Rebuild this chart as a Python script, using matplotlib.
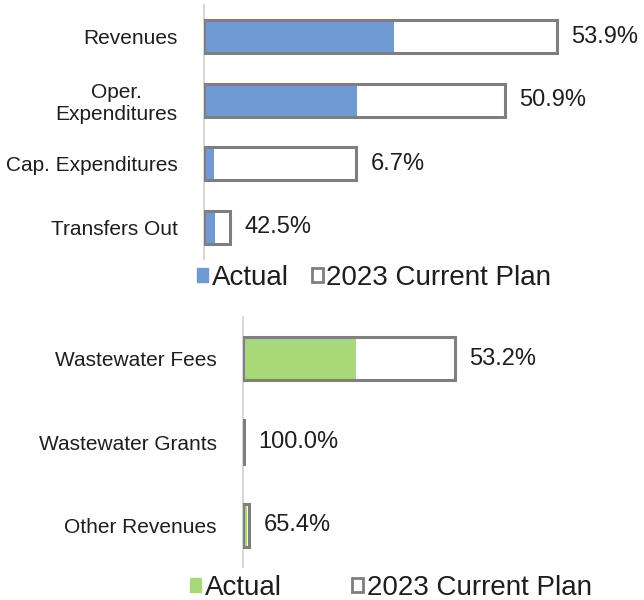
import matplotlib
matplotlib.use("Agg")
import matplotlib.pyplot as plt
from matplotlib.patches import Patch

plt.rcParams['font.family'] = ['Liberation Sans', 'DejaVu Sans']

# top chart - overall fund (units)
top_cats = ["Revenues", "Oper.\nExpenditures", "Cap. Expenditures", "Transfers Out"]
top_plan = [35.3, 30.1, 15.2, 2.6]
top_actual = [19.0, 15.3, 1.0, 1.1]
top_pct = ["53.9%", "50.9%", "6.7%", "42.5%"]

# bottom chart - revenues detail
bot_cats = ["Wastewater Fees", "Wastewater Grants", "Other Revenues"]
bot_plan = [21.2, 0.1, 0.6]
bot_actual = [11.3, 0.1, 0.39]
bot_pct = ["53.2%", "100.0%", "65.4%"]

blue = "#6f9bd2"
green = "#a8d877"
edge = "#7f7f7f"
txt = "#1e1e1e"

W, H = 644, 600
fig = plt.figure(figsize=(6.44, 6.0), dpi=100)


def draw(ax, cats, plan, actual, pct, color, xmax):
    y = list(range(len(cats)))
    ax.barh(y, plan, height=0.52, color="white", zorder=1)
    ax.barh(y, actual, height=0.52, color=color, zorder=2)
    ax.barh(y, plan, height=0.52, fill=False, edgecolor=edge, linewidth=2.2, zorder=3)
    for i in range(len(cats)):
        ax.text(plan[i] + 1.45, i, pct[i], va="center", ha="left", fontsize=17, color=txt)
    ax.set_xlim(0, xmax)
    ax.set_ylim(len(cats) - 0.5, -0.5)
    ax.set_yticks(y)
    ax.set_yticklabels(cats, fontsize=15, color=txt)
    for t in ax.get_yticklabels():
        t.set_multialignment("center")
    ax.tick_params(axis="y", length=0, pad=19)
    ax.set_xticks([])
    for s in ["top", "right", "bottom"]:
        ax.spines[s].set_visible(False)
    ax.spines["left"].set_color("#d0d0d0")
    ax.spines["left"].set_linewidth(1.2)
    ax.patch.set_alpha(0)


ax1 = fig.add_axes([204 / W, 1 - 259 / H, 396 / W, 254 / H])
draw(ax1, top_cats, top_plan, top_actual, top_pct, blue, 39.6)

ax2 = fig.add_axes([243 / W, 1 - 567 / H, 357 / W, 250 / H])
draw(ax2, bot_cats, bot_plan, bot_actual, bot_pct, green, 35.7)


def legend(color, x, y, gap):
    handles = [Patch(facecolor=color, edgecolor=color, label="Actual"),
               Patch(facecolor="white", edgecolor=edge, linewidth=2, label="2023 Current Plan")]
    fig.legend(handles=handles, loc="center left", bbox_to_anchor=(x / W, 1 - y / H),
               ncol=2, frameon=False, fontsize=20, handlelength=0.4, handleheight=0.4,
               handletextpad=0.12, columnspacing=gap, borderpad=0, borderaxespad=0,
               labelcolor=txt)


legend(blue, 197, 278, 0.85)
legend(green, 190, 588, 2.55)

fig.savefig("out.png", dpi=100, facecolor="white")
